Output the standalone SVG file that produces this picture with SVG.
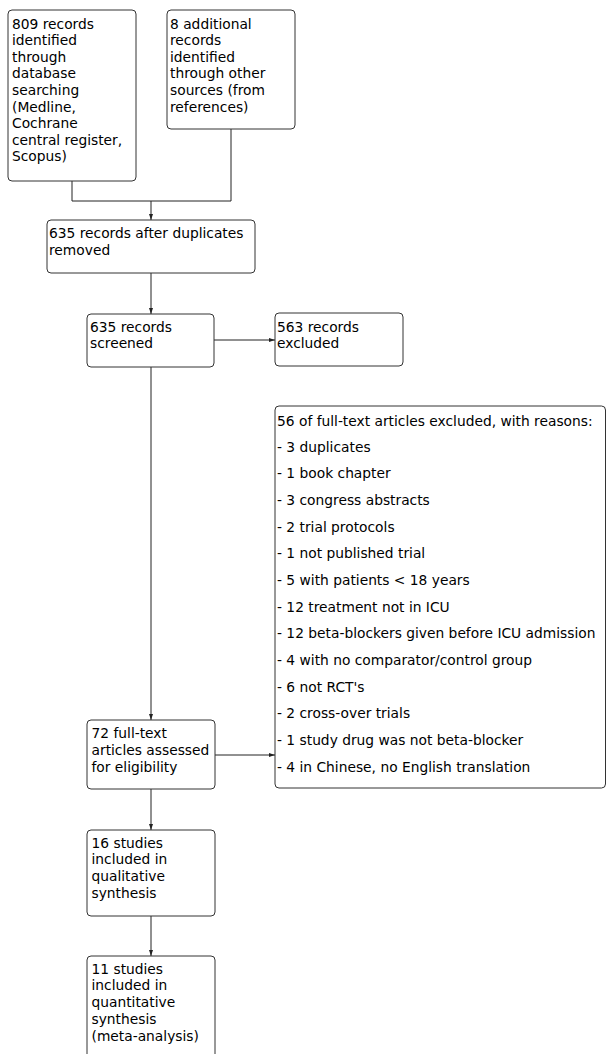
<svg xmlns="http://www.w3.org/2000/svg" width="606" height="1054" viewBox="0 0 606 1054">
<style>
.box{fill:#fff;stroke:#333;stroke-width:1}
.t{font-family:"DejaVu Sans",Verdana,sans-serif;font-size:13.8px;fill:#000}
.c{fill:none;stroke:#222;stroke-width:1}
</style>
<defs>
<marker id="ah" markerWidth="6" markerHeight="6" refX="6" refY="3" orient="auto" markerUnits="userSpaceOnUse">
<path d="M0,1 L6,3 L0,5 z" fill="#222"/>
</marker>
</defs>
<rect width="606" height="1054" fill="#fff"/>
<g id="connectors">
<polyline class="c" points="72,181 72,201 231,201 231,129"/>
<line class="c" x1="151" y1="201" x2="151" y2="220" marker-end="url(#ah)"/>
<line class="c" x1="151" y1="273" x2="151" y2="314" marker-end="url(#ah)"/>
<line class="c" x1="214" y1="340" x2="275" y2="340" marker-end="url(#ah)"/>
<line class="c" x1="151" y1="367" x2="151" y2="720" marker-end="url(#ah)"/>
<line class="c" x1="215" y1="755" x2="275" y2="755" marker-end="url(#ah)"/>
<line class="c" x1="151" y1="789" x2="151" y2="830" marker-end="url(#ah)"/>
<line class="c" x1="151" y1="916" x2="151" y2="956" marker-end="url(#ah)"/>
</g>
<g id="n1">
<rect class="box" x="8" y="10" width="128" height="171" rx="4"/>
<text class="t" x="12" y="28.5">809 records</text>
<text class="t" x="12" y="45.1">identified</text>
<text class="t" x="12" y="61.7">through</text>
<text class="t" x="12" y="78.3">database</text>
<text class="t" x="12" y="94.9">searching</text>
<text class="t" x="12" y="111.5">(Medline,</text>
<text class="t" x="12" y="128.1">Cochrane</text>
<text class="t" x="12" y="144.7">central register,</text>
<text class="t" x="12" y="161.3">Scopus)</text>
</g>
<g id="n2">
<rect class="box" x="167" y="10" width="128" height="119" rx="4"/>
<text class="t" x="170" y="28.5">8 additional</text>
<text class="t" x="170" y="45.1">records</text>
<text class="t" x="170" y="61.7">identified</text>
<text class="t" x="170" y="78.3">through other</text>
<text class="t" x="170" y="94.9">sources (from</text>
<text class="t" x="170" y="111.5">references)</text>
</g>
<g id="n3">
<rect class="box" x="47" y="220" width="208" height="53" rx="4"/>
<text class="t" x="49" y="238">635 records after duplicates</text>
<text class="t" x="49" y="254.6">removed</text>
</g>
<g id="n4">
<rect class="box" x="87" y="314" width="127" height="53" rx="4"/>
<text class="t" x="90" y="331.5">635 records</text>
<text class="t" x="90" y="348.1">screened</text>
</g>
<g id="n5">
<rect class="box" x="275" y="313" width="128" height="53" rx="4"/>
<text class="t" x="277" y="331.5">563 records</text>
<text class="t" x="277" y="348.1">excluded</text>
</g>
<g id="n6">
<rect class="box" x="275" y="406" width="330.5" height="382" rx="4"/>
<text class="t" x="277" y="426">56 of full-text articles excluded, with reasons:</text>
<text class="t" x="277" y="451.5">- 3 duplicates</text>
<text class="t" x="277" y="478.2">- 1 book chapter</text>
<text class="t" x="277" y="504.8">- 3 congress abstracts</text>
<text class="t" x="277" y="531.5">- 2 trial protocols</text>
<text class="t" x="277" y="558.2">- 1 not published trial</text>
<text class="t" x="277" y="584.8">- 5 with patients &lt; 18 years</text>
<text class="t" x="277" y="611.5">- 12 treatment not in ICU</text>
<text class="t" x="277" y="638.2">- 12 beta-blockers given before ICU admission</text>
<text class="t" x="277" y="664.8">- 4 with no comparator/control group</text>
<text class="t" x="277" y="691.5">- 6 not RCT's</text>
<text class="t" x="277" y="718.2">- 2 cross-over trials</text>
<text class="t" x="277" y="744.8">- 1 study drug was not beta-blocker</text>
<text class="t" x="277" y="771.5">- 4 in Chinese, no English translation</text>
</g>
<g id="n7">
<rect class="box" x="87" y="720" width="128" height="69" rx="4"/>
<text class="t" x="91.5" y="737.5">72 full-text</text>
<text class="t" x="91.5" y="754.5">articles assessed</text>
<text class="t" x="91.5" y="771.5">for eligibility</text>
</g>
<g id="n8">
<rect class="box" x="87" y="830" width="128" height="86" rx="4"/>
<text class="t" x="91.5" y="847.5">16 studies</text>
<text class="t" x="91.5" y="864.3">included in</text>
<text class="t" x="91.5" y="881.1">qualitative</text>
<text class="t" x="91.5" y="897.9">synthesis</text>
</g>
<g id="n9">
<rect class="box" x="87" y="956" width="128" height="110" rx="4"/>
<text class="t" x="91.5" y="973.5">11 studies</text>
<text class="t" x="91.5" y="990.3">included in</text>
<text class="t" x="91.5" y="1007.1">quantitative</text>
<text class="t" x="91.5" y="1023.9">synthesis</text>
<text class="t" x="91.5" y="1040.7">(meta-analysis)</text>
</g>
</svg>
